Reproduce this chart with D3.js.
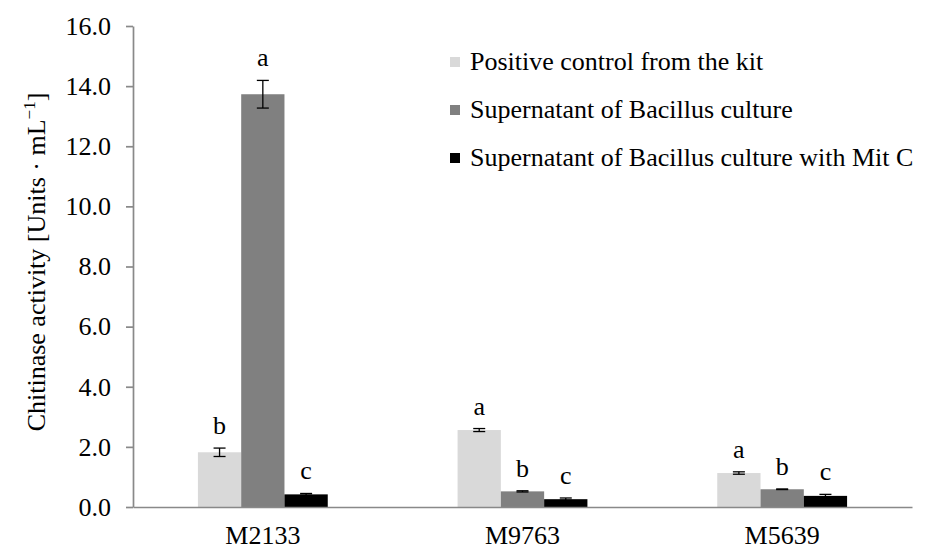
<!DOCTYPE html>
<html>
<head>
<meta charset="utf-8">
<script src="https://cdn.jsdelivr.net/npm/d3@7"></script>
<style>
  body { margin: 0; background: #fff; }
</style>
</head>
<body>
<div id="chart"></div>
<script>
// Chart data
var categories = ["M2133", "M9763", "M5639"];
var seriesNames = ["Positive control from the kit", "Supernatant of Bacillus culture", "Supernatant of Bacillus culture with Mit C"];
var positiveControl = [1.82, 2.56, 1.13];
var supernatant = [13.73, 0.52, 0.59];
var supernatantMitC = [0.42, 0.26, 0.37];
var positiveControlErr = [0.14, 0.05, 0.04];
var supernatantErr = [0.46, 0.02, 0.01];
var supernatantMitCErr = [0.03, 0.04, 0.05];
var positiveControlLetters = ["b", "a", "a"];
var supernatantLetters = ["a", "b", "b"];
var supernatantMitCLetters = ["c", "c", "c"];
var yTicks = [0, 2, 4, 6, 8, 10, 12, 14, 16];

var colors = ["#d9d9d9", "#808080", "#000000"];
var fontFamily = "'Liberation Serif', 'Times New Roman', serif";

var svgWidth = 929;
var svgHeight = 550;
var margin = { top: 26, right: 17, bottom: 43, left: 133 };
var width = svgWidth - margin.left - margin.right;
var height = svgHeight - margin.top - margin.bottom;

var svg = d3.select("#chart")
    .append("svg")
    .attr("width", svgWidth)
    .attr("height", svgHeight)
    .style("font-family", fontFamily);

var chartGroup = svg.append("g")
    .attr("transform", `translate(${margin.left}, ${margin.top})`);

// Build rows from the arrays
var values = [positiveControl, supernatant, supernatantMitC];
var errors = [positiveControlErr, supernatantErr, supernatantMitCErr];
var letters = [positiveControlLetters, supernatantLetters, supernatantMitCLetters];
var rows = [];
categories.forEach((cat, i) => {
    seriesNames.forEach((s, j) => {
        rows.push({ cat: cat, series: s, idx: j, value: values[j][i], err: errors[j][i], letter: letters[j][i] });
    });
});

// Scales
var x0 = d3.scaleBand().domain(categories).range([0, width]);
var x1 = d3.scaleBand().domain(seriesNames).range([0, x0.bandwidth() * 0.5]);
var groupOffset = x0.bandwidth() * 0.25;
var y = d3.scaleLinear().domain([0, 16]).range([height, 0]);

// Bars
chartGroup.selectAll("rect.bar")
    .data(rows)
    .enter()
    .append("rect")
    .classed("bar", true)
    .attr("x", d => x0(d.cat) + groupOffset + x1(d.series))
    .attr("y", d => y(d.value))
    .attr("width", x1.bandwidth())
    .attr("height", d => y(0) - y(d.value))
    .attr("fill", d => colors[d.idx]);

// Error bars
var errGroup = chartGroup.append("g")
    .attr("stroke", "#000")
    .attr("stroke-width", 1.3);
rows.forEach(d => {
    var cx = x0(d.cat) + groupOffset + x1(d.series) + x1.bandwidth() / 2;
    errGroup.append("line")
        .attr("x1", cx).attr("x2", cx)
        .attr("y1", y(d.value - d.err)).attr("y2", y(d.value + d.err));
    [d.value - d.err, d.value + d.err].forEach(v => {
        errGroup.append("line")
            .attr("x1", cx - 6).attr("x2", cx + 6)
            .attr("y1", y(v)).attr("y2", y(v));
    });
});

// Significance letters
chartGroup.selectAll("text.letter")
    .data(rows)
    .enter()
    .append("text")
    .classed("letter", true)
    .attr("x", d => x0(d.cat) + groupOffset + x1(d.series) + x1.bandwidth() / 2)
    .attr("y", d => y(d.value + d.err) - 14)
    .attr("text-anchor", "middle")
    .style("font-family", fontFamily)
    .style("font-size", "26px")
    .text(d => d.letter);

// Y axis
var leftAxis = d3.axisLeft(y)
    .tickValues(yTicks)
    .tickFormat(d3.format(".1f"))
    .tickSize(7)
    .tickSizeOuter(0)
    .tickPadding(15);
var yAxis = chartGroup.append("g").call(leftAxis).attr("font-family", null);
yAxis.selectAll("text").style("font-family", fontFamily).style("font-size", "26px").attr("fill", "#000");
yAxis.selectAll("line, path").attr("stroke", "#898989").attr("stroke-width", 1.7);

// X axis
var bottomAxis = d3.axisBottom(x0).tickSize(0).tickPadding(19);
var xAxis = chartGroup.append("g")
    .attr("transform", `translate(0, ${height})`)
    .call(bottomAxis)
    .attr("font-family", null);
xAxis.selectAll("text").style("font-family", fontFamily).style("font-size", "26px").attr("fill", "#000");
xAxis.select("path").attr("stroke", "#898989").attr("stroke-width", 1.7);

// Y axis title
var title = svg.append("text")
    .attr("transform", "rotate(-90)")
    .attr("x", -262)
    .attr("y", 45)
    .attr("text-anchor", "middle")
    .style("font-family", fontFamily)
    .style("font-size", "26px");
title.append("tspan").text("Chitinase activity [Units \u00b7 mL");
title.append("tspan").attr("dy", -10).style("font-size", "17px").text("\u22121");
title.append("tspan").attr("dy", 10).text("]");

// Legend
var legend = svg.append("g");
seriesNames.forEach((s, i) => {
    var cy = 62 + i * 48;
    legend.append("rect")
        .attr("x", 450).attr("y", cy - 5)
        .attr("width", 10).attr("height", 10)
        .attr("fill", colors[i]);
    legend.append("text")
        .attr("x", 470).attr("y", cy + 8)
        .style("font-family", fontFamily)
        .style("font-size", "26px")
        .text(s);
});
</script>
</body>
</html>
